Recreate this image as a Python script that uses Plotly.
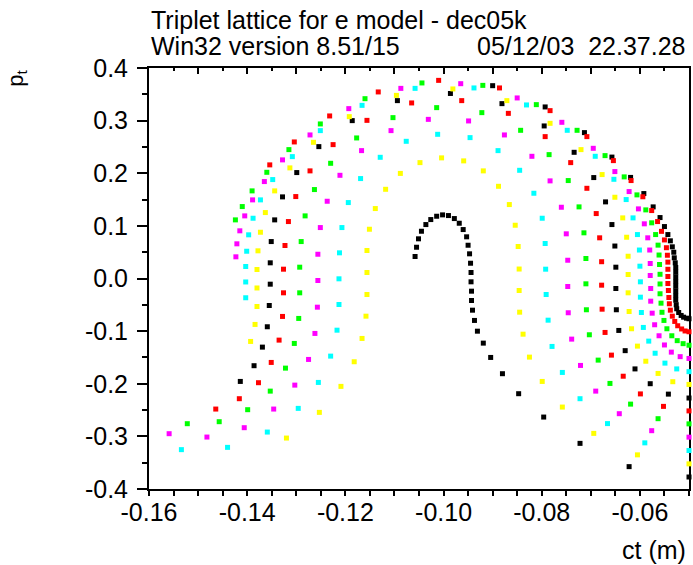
import plotly.graph_objects as go

# ---- data: ct (m) and pt for each ring of particles ----
hook_ct = [-0.1058,-0.1055,-0.1051,-0.1045,-0.1036,-0.1026,-0.1014,-0.1002,-0.0990,-0.0978,-0.0968,-0.0960,-0.0953,-0.0950,-0.0947,-0.0945,-0.0944,-0.0944,-0.0943,-0.0943,-0.0941,-0.0937,-0.0931,-0.0919,-0.0904,-0.0880,-0.0847,-0.0796,-0.0722,-0.0622,-0.0500]
hook_pt = [0.0418,0.0594,0.0754,0.0898,0.1025,0.1120,0.1183,0.1209,0.1196,0.1139,0.1050,0.0930,0.0792,0.0632,0.0469,0.0290,0.0114,-0.0063,-0.0241,-0.0418,-0.0602,-0.0797,-0.1001,-0.1228,-0.1500,-0.1809,-0.2189,-0.2633,-0.3133,-0.3575,-0.3772]

y1_ct = [-0.0500,-0.0605,-0.0694,-0.0758,-0.0799,-0.0825,-0.0838,-0.0845,-0.0846,-0.0846,-0.0848,-0.0854,-0.0866,-0.0888,-0.0919,-0.0959,-0.1004,-0.1048,-0.1088,-0.1118,-0.1139,-0.1151,-0.1156,-0.1156,-0.1156,-0.1158,-0.1166,-0.1182,-0.1209,-0.1253,-0.1320]
y1_pt = [-0.3522,-0.3351,-0.2943,-0.2443,-0.1956,-0.1494,-0.1058,-0.0640,-0.0228,0.0180,0.0608,0.1012,0.1405,0.1752,0.2045,0.2235,0.2292,0.2202,0.1997,0.1695,0.1329,0.0936,0.0532,0.0114,-0.0304,-0.0716,-0.1139,-0.1582,-0.2050,-0.2544,-0.3032]

c1_ct = [-0.0500,-0.0590,-0.0666,-0.0722,-0.0758,-0.0779,-0.0787,-0.0791,-0.0792,-0.0793,-0.0799,-0.0816,-0.0845,-0.0889,-0.0946,-0.1012,-0.1076,-0.1129,-0.1169,-0.1194,-0.1207,-0.1212,-0.1213,-0.1213,-0.1217,-0.1230,-0.1255,-0.1296,-0.1359,-0.1440,-0.1534]
c1_pt = [-0.3269,-0.3123,-0.2757,-0.2284,-0.1785,-0.1291,-0.0792,-0.0304,0.0177,0.0665,0.1145,0.1620,0.2056,0.2430,0.2677,0.2740,0.2607,0.2303,0.1899,0.1443,0.0968,0.0488,-0.0006,-0.0494,-0.0982,-0.1475,-0.1975,-0.2468,-0.2918,-0.3209,-0.3252]

m1_ct = [-0.0500,-0.0576,-0.0642,-0.0690,-0.0721,-0.0739,-0.0746,-0.0747,-0.0747,-0.0750,-0.0760,-0.0783,-0.0820,-0.0876,-0.0949,-0.1031,-0.1107,-0.1167,-0.1211,-0.1237,-0.1251,-0.1256,-0.1256,-0.1257,-0.1262,-0.1275,-0.1303,-0.1346,-0.1406,-0.1482,-0.1559]
m1_pt = [-0.3015,-0.2892,-0.2569,-0.2140,-0.1652,-0.1152,-0.0651,-0.0152,0.0347,0.0849,0.1354,0.1855,0.2322,0.2728,0.2994,0.3024,0.2810,0.2430,0.1961,0.1468,0.0968,0.0461,-0.0038,-0.0545,-0.1044,-0.1538,-0.2026,-0.2481,-0.2835,-0.3013,-0.2949]

g1_ct = [-0.0500,-0.0563,-0.0619,-0.0661,-0.0685,-0.0703,-0.0709,-0.0710,-0.0710,-0.0714,-0.0724,-0.0746,-0.0785,-0.0843,-0.0922,-0.1014,-0.1103,-0.1177,-0.1230,-0.1263,-0.1282,-0.1290,-0.1293,-0.1293,-0.1295,-0.1304,-0.1322,-0.1353,-0.1399,-0.1457,-0.1522]
g1_pt = [-0.2762,-0.2664,-0.2387,-0.1994,-0.1551,-0.1069,-0.0594,-0.0101,0.0380,0.0868,0.1361,0.1861,0.2354,0.2816,0.3152,0.3247,0.3057,0.2671,0.2189,0.1690,0.1190,0.0702,0.0215,-0.0272,-0.0759,-0.1234,-0.1703,-0.2140,-0.2493,-0.2721,-0.2759]

r1_ct = [-0.0500,-0.0552,-0.0599,-0.0634,-0.0658,-0.0671,-0.0677,-0.0678,-0.0678,-0.0682,-0.0689,-0.0708,-0.0741,-0.0793,-0.0868,-0.0963,-0.1065,-0.1156,-0.1225,-0.1272,-0.1301,-0.1316,-0.1323,-0.1326,-0.1326,-0.1328,-0.1335,-0.1351,-0.1377,-0.1416,-0.1464]
r1_pt = [-0.2516,-0.2430,-0.2193,-0.1857,-0.1456,-0.1025,-0.0583,-0.0127,0.0319,0.0773,0.1234,0.1714,0.2202,0.2696,0.3138,0.3380,0.3336,0.3005,0.2544,0.2045,0.1557,0.1082,0.0627,0.0177,-0.0272,-0.0721,-0.1171,-0.1595,-0.1980,-0.2284,-0.2481]

b1_ct = [-0.0500,-0.0542,-0.0579,-0.0610,-0.0630,-0.0643,-0.0648,-0.0649,-0.0649,-0.0651,-0.0657,-0.0670,-0.0694,-0.0734,-0.0795,-0.0881,-0.0986,-0.1094,-0.1186,-0.1254,-0.1299,-0.1328,-0.1344,-0.1351,-0.1353,-0.1353,-0.1355,-0.1359,-0.1369,-0.1386,-0.1414]
b1_pt = [-0.2271,-0.2197,-0.1999,-0.1718,-0.1371,-0.0987,-0.0594,-0.0190,0.0215,0.0617,0.1025,0.1456,0.1918,0.2398,0.2899,0.3323,0.3516,0.3380,0.3000,0.2506,0.2013,0.1551,0.1114,0.0702,0.0298,-0.0108,-0.0513,-0.0917,-0.1304,-0.1657,-0.1956]

y2_ct = [-0.0500,-0.0533,-0.0563,-0.0588,-0.0605,-0.0617,-0.0622,-0.0624,-0.0624,-0.0624,-0.0627,-0.0635,-0.0651,-0.0677,-0.0720,-0.0783,-0.0871,-0.0981,-0.1096,-0.1192,-0.1265,-0.1313,-0.1344,-0.1363,-0.1373,-0.1378,-0.1380,-0.1380,-0.1380,-0.1384,-0.1393]
y2_pt = [-0.2013,-0.1961,-0.1804,-0.1572,-0.1285,-0.0955,-0.0627,-0.0272,0.0076,0.0423,0.0784,0.1152,0.1544,0.1975,0.2449,0.2949,0.3380,0.3602,0.3480,0.3076,0.2588,0.2102,0.1665,0.1253,0.0879,0.0526,0.0171,-0.0180,-0.0532,-0.0873,-0.1196]

c2_ct = [-0.0500,-0.0525,-0.0549,-0.0569,-0.0582,-0.0593,-0.0597,-0.0599,-0.0599,-0.0600,-0.0601,-0.0605,-0.0614,-0.0628,-0.0653,-0.0691,-0.0748,-0.0831,-0.0938,-0.1058,-0.1166,-0.1251,-0.1308,-0.1348,-0.1373,-0.1388,-0.1397,-0.1401,-0.1403,-0.1403,-0.1403]
c2_pt = [-0.1770,-0.1718,-0.1608,-0.1420,-0.1190,-0.0930,-0.0646,-0.0355,-0.0063,0.0234,0.0541,0.0835,0.1152,0.1500,0.1885,0.2322,0.2816,0.3298,0.3621,0.3613,0.3290,0.2810,0.2316,0.1880,0.1494,0.1145,0.0830,0.0518,0.0228,-0.0066,-0.0366]

m2_ct = [-0.0500,-0.0518,-0.0536,-0.0550,-0.0561,-0.0570,-0.0575,-0.0578,-0.0578,-0.0579,-0.0579,-0.0580,-0.0584,-0.0591,-0.0603,-0.0622,-0.0651,-0.0695,-0.0759,-0.0850,-0.0965,-0.1087,-0.1193,-0.1272,-0.1328,-0.1365,-0.1389,-0.1405,-0.1415,-0.1421,-0.1423]
m2_pt = [-0.1519,-0.1485,-0.1399,-0.1263,-0.1088,-0.0879,-0.0659,-0.0431,-0.0190,0.0057,0.0285,0.0541,0.0773,0.1039,0.1323,0.1652,0.2032,0.2474,0.2968,0.3431,0.3702,0.3613,0.3228,0.2728,0.2254,0.1842,0.1494,0.1190,0.0906,0.0659,0.0412]

g2_ct = [-0.0500,-0.0512,-0.0524,-0.0535,-0.0545,-0.0551,-0.0555,-0.0557,-0.0559,-0.0559,-0.0559,-0.0560,-0.0561,-0.0563,-0.0568,-0.0576,-0.0588,-0.0606,-0.0632,-0.0671,-0.0728,-0.0811,-0.0920,-0.1044,-0.1160,-0.1251,-0.1315,-0.1360,-0.1390,-0.1410,-0.1424]
g2_pt = [-0.1268,-0.1238,-0.1181,-0.1088,-0.0955,-0.0797,-0.0642,-0.0469,-0.0290,-0.0104,0.0080,0.0266,0.0446,0.0634,0.0835,0.1058,0.1304,0.1589,0.1931,0.2335,0.2816,0.3304,0.3670,0.3716,0.3417,0.2937,0.2449,0.2018,0.1665,0.1367,0.1114]

r2_ct = [-0.0500,-0.0508,-0.0515,-0.0523,-0.0529,-0.0534,-0.0538,-0.0540,-0.0541,-0.0542,-0.0543,-0.0543,-0.0543,-0.0543,-0.0544,-0.0546,-0.0550,-0.0556,-0.0564,-0.0576,-0.0594,-0.0618,-0.0654,-0.0708,-0.0783,-0.0886,-0.1010,-0.1133,-0.1232,-0.1304,-0.1354]
r2_pt = [-0.1012,-0.0997,-0.0959,-0.0898,-0.0816,-0.0716,-0.0602,-0.0480,-0.0361,-0.0228,-0.0095,0.0038,0.0175,0.0311,0.0442,0.0585,0.0733,0.0896,0.1082,0.1291,0.1553,0.1861,0.2240,0.2696,0.3190,0.3621,0.3765,0.3545,0.3089,0.2595,0.2159]

b2_ct = [-0.0500,-0.0505,-0.0511,-0.0516,-0.0521,-0.0525,-0.0526,-0.0527,-0.0527,-0.0527,-0.0527,-0.0527,-0.0527,-0.0527,-0.0527,-0.0528,-0.0530,-0.0531,-0.0534,-0.0538,-0.0543,-0.0550,-0.0559,-0.0573,-0.0592,-0.0619,-0.0657,-0.0713,-0.0793,-0.0900]
b2_pt = [-0.0765,-0.0754,-0.0735,-0.0702,-0.0646,-0.0575,-0.0499,-0.0412,-0.0323,-0.0234,-0.0146,-0.0057,0.0032,0.0120,0.0209,0.0298,0.0393,0.0499,0.0602,0.0716,0.0835,0.0987,0.1158,0.1361,0.1614,0.1921,0.2307,0.2772,0.3260,0.3664]

x_label_vals = [-0.16, -0.14, -0.12, -0.10, -0.08, -0.06]
x_label_text = ["-0.16", "-0.14", "-0.12", "-0.10", "-0.08", "-0.06"]
x_top_tick_vals = [-0.16, -0.15, -0.14, -0.13, -0.12, -0.11, -0.10, -0.09, -0.08, -0.07, -0.06, -0.05]
y_tick_vals = [0.4, 0.3, 0.2, 0.1, 0.0, -0.1, -0.2, -0.3, -0.4]
y_tick_text = ["0.4", "0.3", "0.2", "0.1", "0.0", "-0.1", "-0.2", "-0.3", "-0.4"]

title_line1 = "Triplet lattice for e model - dec05k"
title_line2_left = "Win32 version 8.51/15"
title_line2_right = "05/12/03\u00a0\u00a022.37.28"

# ---- grouping by colour (the six-colour cycle of the rings) ----
groups = [
    ("#000000", hook_ct + b1_ct + b2_ct, hook_pt + b1_pt + b2_pt),
    ("#ff0000", r1_ct + r2_ct, r1_pt + r2_pt),
    ("#00ff00", g1_ct + g2_ct, g1_pt + g2_pt),
    ("#ff00ff", m1_ct + m2_ct, m1_pt + m2_pt),
    ("#00ffff", c1_ct + c2_ct, c1_pt + c2_pt),
    ("#ffff00", y1_ct + y2_ct, y1_pt + y2_pt),
]

FONT = "Liberation Sans, Arial, sans-serif"
FS = 25

fig = go.Figure()
for color, xs, ys in groups:
    fig.add_trace(go.Scatter(
        x=xs, y=ys, mode="markers",
        marker=dict(symbol="square", size=5, color=color, line=dict(width=0)),
        cliponaxis=False, showlegend=False, hoverinfo="skip"))

# helper trace so the top (tick-only) axis is drawn
fig.add_trace(go.Scatter(x=[-0.16], y=[None], xaxis="x2", yaxis="y",
                         mode="markers", showlegend=False, hoverinfo="skip"))

axis_font = dict(family=FONT, size=FS, color="black")

fig.update_layout(
    width=693, height=565,
    margin=dict(l=149, r=2, t=68, b=76),
    paper_bgcolor="white", plot_bgcolor="white",
    font=axis_font,
    xaxis=dict(
        range=[-0.16, -0.05], showgrid=False, zeroline=False,
        showline=True, linecolor="black", linewidth=2, mirror=True,
        tickmode="array", tickvals=x_label_vals, ticktext=x_label_text,
        ticks="outside", ticklen=5, tickwidth=2, tickcolor="black",
        minor=dict(ticks="outside", ticklen=5, tickwidth=1.5, dtick=0.005,
                   tick0=-0.16, tickcolor="black", showgrid=False),
        tickfont=axis_font, layer="below traces", ticklabelstandoff=-5,
    ),
    xaxis2=dict(
        range=[-0.16, -0.05], overlaying="x", side="top", anchor="y",
        showgrid=False, zeroline=False, showline=False,
        tickmode="array", tickvals=x_top_tick_vals, showticklabels=False,
        ticks="inside", ticklen=6, tickwidth=2, tickcolor="black",
        minor=dict(ticks="inside", ticklen=3, tickwidth=1.5, dtick=0.005,
                   tick0=-0.16, tickcolor="black", showgrid=False),
        layer="below traces",
    ),
    yaxis=dict(
        range=[-0.4, 0.4], showgrid=False, zeroline=False,
        showline=True, linecolor="black", linewidth=2, mirror=True,
        tickmode="array", tickvals=y_tick_vals, ticktext=y_tick_text,
        ticks="outside", ticklen=10, tickwidth=2, tickcolor="black",
        minor=dict(ticks="outside", ticklen=5, tickwidth=1.5, dtick=0.05,
                   tick0=-0.4, tickcolor="black", showgrid=False),
        tickfont=axis_font, layer="below traces", ticklabelstandoff=4,
    ),
    annotations=[
        dict(text=title_line1, xref="paper", yref="paper", x=0, y=1.1152,
             xanchor="left", yanchor="middle", showarrow=False,
             font=dict(family=FONT, size=FS, color="black")),
        dict(text=title_line2_left, xref="paper", yref="paper", x=0, y=1.0511,
             xanchor="left", yanchor="middle", showarrow=False,
             font=dict(family=FONT, size=FS, color="black")),
        dict(text=title_line2_right, xref="paper", yref="paper", x=0.9985, y=1.0511,
             xanchor="right", yanchor="middle", showarrow=False,
             font=dict(family=FONT, size=FS, color="black")),
        dict(text="ct (m)", xref="paper", yref="paper", x=0.9985, y=-0.1449,
             xanchor="right", yanchor="middle", showarrow=False,
             font=dict(family=FONT, size=FS, color="black")),
        dict(text="p<sub>t</sub>", xref="paper", yref="paper", x=-0.245, y=0.976,
             xanchor="center", yanchor="middle", textangle=-90, showarrow=False,
             font=dict(family=FONT, size=22, color="black")),
    ],
)

fig.write_html("out.html", config={"displayModeBar": False},
               post_script="document.body.style.margin='0px';document.body.style.overflow='hidden';")
